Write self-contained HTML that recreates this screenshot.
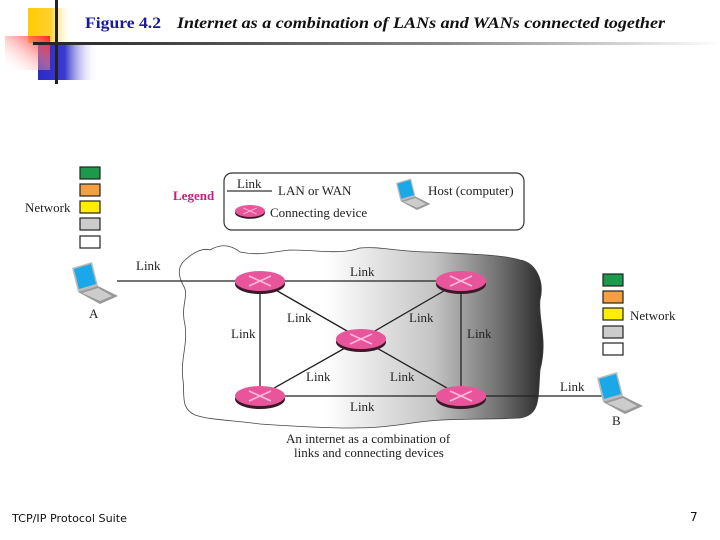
<!DOCTYPE html>
<html><head><meta charset="utf-8"><style>
html,body{margin:0;padding:0;background:#fff;}
body{width:720px;height:540px;overflow:hidden;position:relative;}
svg{position:absolute;left:0;top:0;}
.t{font-family:"Liberation Serif",serif;font-size:13px;fill:#222;}
</style></head><body>
<svg width="720" height="540" viewBox="0 0 720 540" xmlns="http://www.w3.org/2000/svg">
<defs>
<linearGradient id="yel" x1="0" x2="1"><stop offset="0" stop-color="#ffcc00"/><stop offset="0.5" stop-color="#ffd030"/><stop offset="1" stop-color="#fff" stop-opacity="0"/></linearGradient>
<linearGradient id="red" x1="1" x2="0" y1="0" y2="1"><stop offset="0" stop-color="#ff2020"/><stop offset="1" stop-color="#fff" stop-opacity="0"/></linearGradient>
<linearGradient id="blu" x1="0" x2="1"><stop offset="0" stop-color="#2a2ac8"/><stop offset="0.45" stop-color="#3a3ad0"/><stop offset="1" stop-color="#fff" stop-opacity="0"/></linearGradient>
<linearGradient id="hl" x1="0" x2="1"><stop offset="0" stop-color="#222"/><stop offset="0.6" stop-color="#888"/><stop offset="1" stop-color="#fff"/></linearGradient>
<linearGradient id="cloud" x1="0" x2="1"><stop offset="0" stop-color="#fff"/><stop offset="0.4" stop-color="#fff"/><stop offset="0.7" stop-color="#c4c4c4"/><stop offset="0.88" stop-color="#707070"/><stop offset="1" stop-color="#2a2a2a"/></linearGradient>
<g id="rt"><ellipse cx="0" cy="3" rx="25" ry="10" fill="#3a1a28"/><ellipse cx="0" cy="0" rx="25" ry="10" fill="#e8559a"/><path d="M-11,-5 L11,5 M-11,5 L11,-5" stroke="#fbd" stroke-width="1.6"/></g>
<g id="lap"><path d="M0,0 L20,-6 L26,18 L6,24 Z" fill="#bbb"/><path d="M2,1 L19,-4 L24,16 L7,21 Z" fill="#1aa8e8"/><path d="M6,24 L26,18 L46,28 L28,36 Z" fill="#999"/><path d="M10,25 L26,20 L40,28 L28,33 Z" fill="#ccc"/></g>
</defs>
<rect x="28" y="8" width="45" height="35" fill="url(#yel)"/>
<rect x="38" y="45" width="60" height="35" fill="url(#blu)"/>
<rect x="5" y="36" width="45" height="34" fill="url(#red)"/>
<rect x="55" y="0" width="3" height="84" fill="#222"/>
<rect x="33" y="42" width="690" height="3" fill="url(#hl)"/>
<text x="85" y="28" font-family="Liberation Serif,serif" font-size="16" font-weight="bold" fill="#1a1aa0" textLength="76" lengthAdjust="spacingAndGlyphs">Figure 4.2</text>
<text x="177" y="28" font-family="Liberation Serif,serif" font-size="16" font-weight="bold" font-style="italic" fill="#111" textLength="488" lengthAdjust="spacingAndGlyphs">Internet as a combination of LANs and WANs connected together</text>
<rect x="224" y="173" width="300" height="57" rx="8" fill="#fff" stroke="#333" stroke-width="1.2"/>
<text x="173" y="200" font-family="Liberation Serif,serif" font-size="13" font-weight="bold" fill="#c02080">Legend</text>
<line x1="227" y1="191" x2="272" y2="191" stroke="#333" stroke-width="1.3"/>
<text class="t" x="237" y="188">Link</text>
<text class="t" x="278" y="195">LAN or WAN</text>
<g transform="translate(250,211) scale(0.6)"><use href="#rt"/></g>
<text class="t" x="270" y="217">Connecting device</text>
<g transform="translate(396,183) scale(0.75)"><use href="#lap"/></g>
<text class="t" x="428" y="195">Host (computer)</text>
<g stroke="#222" stroke-width="1.2">
<rect x="80" y="167" width="20" height="12" fill="#1a9a4a"/><rect x="80" y="184" width="20" height="12" fill="#f4a040"/><rect x="80" y="201" width="20" height="12" fill="#ffee00"/><rect x="80" y="218" width="20" height="12" fill="#ccc"/><rect x="80" y="236" width="20" height="12" fill="#fff"/>
<rect x="603" y="274" width="20" height="12" fill="#1a9a4a"/><rect x="603" y="291" width="20" height="12" fill="#f4a040"/><rect x="603" y="308" width="20" height="12" fill="#ffee00"/><rect x="603" y="326" width="20" height="12" fill="#ccc"/><rect x="603" y="343" width="20" height="12" fill="#fff"/>
</g>
<text class="t" x="25" y="212">Network</text>
<text class="t" x="630" y="320">Network</text>
<path d="M183,262 C195,250 205,248 210,250 C220,244 230,244 240,252 C260,256 270,252 290,250 C320,250 340,255 360,248 C380,246 400,252 430,252 C460,254 500,254 520,260 C535,262 545,280 540,300 C538,320 548,340 540,370 C538,400 540,415 520,418 C480,420 450,418 420,422 C390,426 380,428 350,428 C320,428 290,426 260,424 C230,420 210,420 195,415 C180,408 185,395 183,380 C180,360 188,345 185,325 C180,305 190,295 183,285 C178,275 178,268 183,262 Z" fill="url(#cloud)" stroke="#444" stroke-width="0.8"/>
<g stroke="#222" stroke-width="1.3">
<line x1="117" y1="281" x2="260" y2="281"/>
<line x1="260" y1="281" x2="461" y2="281"/>
<line x1="260" y1="396" x2="461" y2="396"/>
<line x1="260" y1="281" x2="260" y2="396"/>
<line x1="461" y1="281" x2="461" y2="396"/>
<line x1="260" y1="281" x2="361" y2="339"/>
<line x1="461" y1="281" x2="361" y2="339"/>
<line x1="260" y1="396" x2="361" y2="339"/>
<line x1="461" y1="396" x2="361" y2="339"/>
<line x1="461" y1="396" x2="605" y2="396"/>
</g>
<use href="#rt" x="260" y="281"/><use href="#rt" x="461" y="281"/><use href="#rt" x="361" y="339"/><use href="#rt" x="260" y="396"/><use href="#rt" x="461" y="396"/>
<g transform="translate(72,268)"><use href="#lap"/></g>
<g transform="translate(597,378)"><use href="#lap"/></g>
<text class="t" x="136" y="270">Link</text>
<text class="t" x="350" y="276">Link</text>
<text class="t" x="287" y="322">Link</text>
<text class="t" x="409" y="322">Link</text>
<text class="t" x="231" y="338">Link</text>
<text class="t" x="467" y="338">Link</text>
<text class="t" x="306" y="381">Link</text>
<text class="t" x="390" y="381">Link</text>
<text class="t" x="350" y="411">Link</text>
<text class="t" x="560" y="391">Link</text>
<text class="t" x="89" y="318">A</text>
<text class="t" x="612" y="425">B</text>
<text class="t" x="286" y="443">An internet as a combination of</text>
<text class="t" x="294" y="457">links and connecting devices</text>
<text x="12" y="522" font-family="DejaVu Sans,sans-serif" font-size="11" fill="#111" textLength="115" lengthAdjust="spacingAndGlyphs">TCP/IP Protocol Suite</text>
<text x="690" y="521" font-family="DejaVu Sans,sans-serif" font-size="12" fill="#111">7</text>
</svg>
</body></html>
